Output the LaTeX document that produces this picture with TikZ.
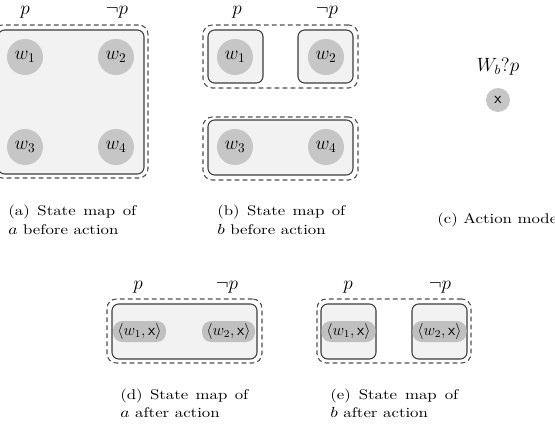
\documentclass[tikz,border=0pt]{standalone}
\usetikzlibrary{fit}
\definecolor{boxfill}{RGB}{242,242,242}
\definecolor{boxline}{RGB}{60,60,60}
\definecolor{dashline}{RGB}{80,80,80}
\definecolor{wfill}{RGB}{198,198,198}
\definecolor{pillfill}{RGB}{192,192,192}
\begin{document}
\begin{tikzpicture}[x=0.75pt,y=-0.75pt,
  solidbox/.style={draw=boxline,fill=boxfill,line width=0.8pt,rounded corners=5pt,inner sep=0pt},
  dashbox/.style={draw=dashline,dash pattern=on 3.6pt off 2.4pt,line width=0.8pt,rounded corners=7pt,inner sep=0pt},
  world/.style={circle,fill=wfill,minimum size=27pt,inner sep=0pt,font=\fontsize{14}{14}\selectfont},
  act/.style={circle,fill=wfill,minimum size=18pt,inner sep=0pt,font=\fontsize{13}{13}\selectfont},
  pill/.style={fill=pillfill,rounded corners=7pt,inner sep=0pt,font=\fontsize{11.5}{12}\selectfont},
  lab/.style={font=\fontsize{14}{14}\selectfont,inner sep=0pt},
  toplab/.style={lab,anchor=base},
  capt/.style={font=\fontsize{10.5}{13.9}\selectfont,inner sep=0pt,anchor=base west,align=justify,text width=80pt,xscale=1.2,transform shape},
]
\useasboundingbox (0,0) rectangle (555,438);
% ---------- (a)
\node[dashbox,fit={(-7,25) (148,178)}] (aD) {};
\node[solidbox,fit={(-2,30) (144,174)}] (aS) {};
\node[world] (aw1) at (25,57) {$w_1$};
\node[world] (aw2) at (116,57) {$w_2$};
\node[world] (aw3) at (25,147) {$w_3$};
\node[world] (aw4) at (116,147) {$w_4$};
\node[toplab] (ap) at (25,14.5) {$p$};
\node[toplab] (anp) at (117,14.5) {$\neg p$};
\node[capt] (acap) at (8,215.7) {(a) State map of\linebreak $a$ before action};
% ---------- (b)
\node[dashbox,fit={(203,25) (358,88)}] (bD1) {};
\node[solidbox,fit={(208,30) (263,83)}] (bS1) {};
\node[solidbox,fit={(298,30) (353,83)}] (bS2) {};
\node[dashbox,fit={(203,117) (358,180)}] (bD2) {};
\node[solidbox,fit={(208,120) (353,175)}] (bS3) {};
\node[world] (bw1) at (235,57) {$w_1$};
\node[world] (bw2) at (326,57) {$w_2$};
\node[world] (bw3) at (235,147) {$w_3$};
\node[world] (bw4) at (326,147) {$w_4$};
\node[toplab] (bp) at (237,14.5) {$p$};
\node[toplab] (bnp) at (327,14.5) {$\neg p$};
\node[capt] (bcap) at (217,215.7) {(b) State map of\linebreak $b$ before action};
% ---------- (c)
\node[lab] (cl) at (498,67) {$W_b?p$};
\node[act] (cx) at (498,100) {$\mathsf{x}$};
\node[capt,align=left,text width=] (ccap) at (437,223) {(c) Action model};
% ---------- (d)
\node[dashbox,fit={(107,299) (262,363)}] (dD) {};
\node[solidbox,fit={(112,304) (257,359)}] (dS) {};
\node[pill,minimum width=39.75pt,minimum height=15.75pt] (dq1) at (139.5,331.5) {$\langle w_1,\mathsf{x}\rangle$};
\node[pill,minimum width=39.75pt,minimum height=15.75pt] (dq2) at (228.5,331.5) {$\langle w_2,\mathsf{x}\rangle$};
\node[toplab] (dp) at (138,289.5) {$p$};
\node[toplab] (dnp) at (227,289.5) {$\neg p$};
\node[capt] (dcap) at (120,399) {(d) State map of\linebreak $a$ after action};
% ---------- (e)
\node[dashbox,fit={(317,299) (471,363)}] (eD) {};
\node[solidbox,fit={(321,304) (376,359)}] (eS1) {};
\node[solidbox,fit={(412,304) (467,359)}] (eS2) {};
\node[pill,minimum width=40.5pt,minimum height=15.75pt] (eq1) at (348.5,331.5) {$\langle w_1,\mathsf{x}\rangle$};
\node[pill,minimum width=40.5pt,minimum height=15.75pt] (eq2) at (439.5,331.5) {$\langle w_2,\mathsf{x}\rangle$};
\node[toplab] (ep) at (348,289.5) {$p$};
\node[toplab] (enp) at (440,289.5) {$\neg p$};
\node[capt] (ecap) at (330,399) {(e) State map of\linebreak $b$ after action};
\end{tikzpicture}
\end{document}
